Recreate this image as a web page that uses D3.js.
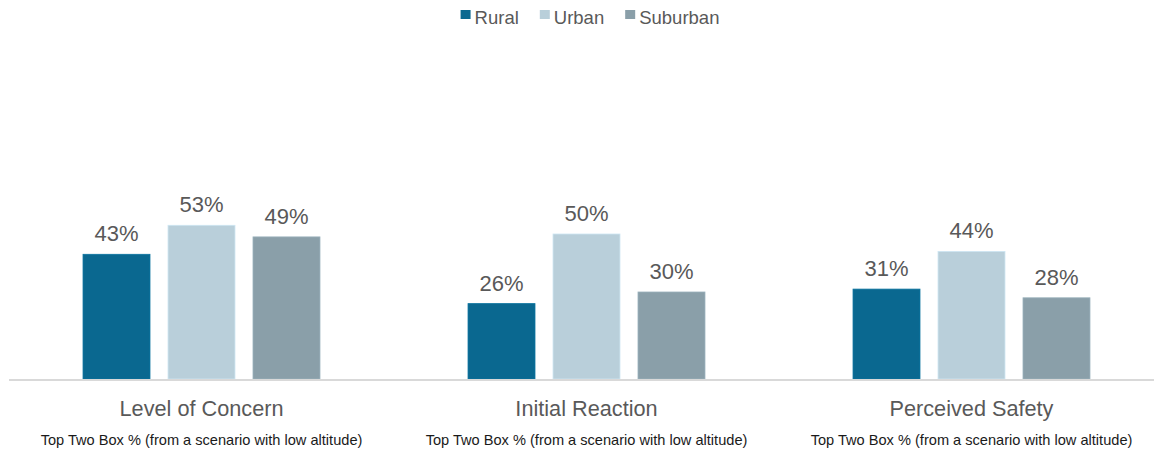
<!DOCTYPE html>
<html><head><meta charset="utf-8">
<script src="https://cdn.jsdelivr.net/npm/d3@7"></script>
<style>body{margin:0;background:#fff}svg{display:block}text{font-family:"Liberation Sans",Arial,sans-serif}</style>
</head><body><svg id="c" width="1154" height="451"></svg>
<script>
const categories = ["Level of Concern", "Initial Reaction", "Perceived Safety"];
const subtitle = "Top Two Box % (from a scenario with low altitude)";
const seriesNames = ["Rural", "Urban", "Suburban"];
const rural = [43, 26, 31];
const urban = [53, 50, 44];
const suburban = [49, 30, 28];
const colors = ["#0a6890", "#b9cfda", "#8a9fa9"];
const seriesValues = [rural, urban, suburban];

const svg = d3.select("#c");
const baseY = 379;
const x0 = d3.scaleBand().domain(categories).range([9, 1164]).padding(0);
const x1 = d3.scaleBand().domain(seriesNames).range([0, x0.bandwidth()]).paddingInner(0.212).paddingOuter(0.871);
const y = d3.scaleLinear().domain([0, 100]).range([baseY, 89]);
const color = d3.scaleOrdinal().domain(seriesNames).range(colors);

const data = categories.map((c, i) => ({cat: c, vals: seriesNames.map((s, j) => ({s, v: seriesValues[j][i]}))}));

const g = svg.selectAll("g.grp").data(data).enter().append("g").attr("class","grp")
  .attr("transform", d => `translate(${x0(d.cat)},0)`);

g.selectAll("rect").data(d => d.vals).enter().append("rect")
  .attr("x", d => x1(d.s)).attr("width", x1.bandwidth())
  .attr("y", d => y(d.v)).attr("height", d => y(0) - y(d.v))
  .attr("fill", d => color(d.s)).attr("stroke", d => d3.color(color(d.s)).brighter(0.3)).attr("stroke-width", 0.8);

g.selectAll("text.val").data(d => d.vals).enter().append("text").attr("class","val")
  .attr("x", d => x1(d.s) + x1.bandwidth()/2).attr("y", d => y(d.v) - 13)
  .attr("text-anchor","middle").attr("fill","#595959").style("font-size","22px")
  .text(d => d.v + "%");

// axis baseline
const xAxis = d3.axisBottom(x0).tickSize(0).tickPadding(0).tickFormat("");
const ax = svg.append("g").attr("transform", `translate(0,${baseY + 1})`).call(xAxis);
ax.select(".domain").attr("stroke","#d9d9d9").attr("stroke-width",2).attr("d","M9,0H1164");

// category labels
svg.selectAll("text.cat").data(categories).enter().append("text").attr("class","cat")
  .attr("x", d => x0(d) + x0.bandwidth()/2).attr("y", 416)
  .attr("text-anchor","middle").attr("fill","#595959").style("font-size","21.7px")
  .text(d => d);
svg.selectAll("text.sub").data(categories).enter().append("text").attr("class","sub")
  .attr("x", d => x0(d) + x0.bandwidth()/2).attr("y", 445)
  .attr("text-anchor","middle").attr("fill","#1a1a1a").style("font-size","14.6px")
  .text(subtitle);

// legend
const leg = svg.append("g");
const items = leg.selectAll("g").data(seriesNames).enter().append("g");
items.append("rect").attr("width",10).attr("height",9).attr("y",10).attr("fill", d => color(d));
items.append("text").attr("x",14).attr("y",24).attr("fill","#595959").style("font-size","18.5px").text(d => d);
let xo = 0;
items.each(function(){
  const w = this.getBBox().width;
  d3.select(this).attr("transform", `translate(${xo},0)`);
  xo += w + 21;
});
leg.attr("transform", `translate(${590 - (xo - 21)/2},0)`);
</script></body></html>
